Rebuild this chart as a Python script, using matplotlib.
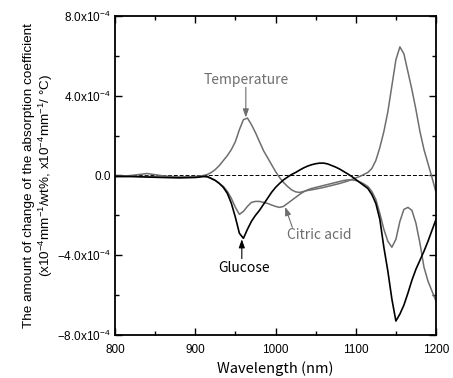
import matplotlib.pyplot as plt
import matplotlib.ticker as mticker
import numpy as np

# wavelength grid (nm)
wavelength = [800, 820, 840, 860, 880, 900, 905, 910, 915, 920, 925, 930, 935, 940,
              945, 950, 955, 960, 965, 970, 975, 980, 985, 990, 995, 1000, 1005,
              1010, 1015, 1020, 1025, 1030, 1035, 1040, 1045, 1050, 1055, 1060,
              1065, 1070, 1075, 1080, 1085, 1090, 1095, 1100, 1105, 1110, 1115,
              1120, 1125, 1130, 1135, 1140, 1145, 1150, 1155, 1160, 1165, 1170,
              1175, 1180, 1185, 1190, 1195, 1200]

# values in units of 1e-4
temperature = [-0.05, -0.05, -0.05, -0.08, -0.08, -0.05, -0.03, 0.0, 0.05, 0.15, 0.3,
               0.5, 0.75, 1.0, 1.3, 1.7, 2.3, 2.8, 2.88, 2.55, 2.15, 1.7, 1.25, 0.9,
               0.55, 0.2, -0.1, -0.35, -0.55, -0.72, -0.82, -0.85, -0.8, -0.75, -0.72,
               -0.68, -0.64, -0.6, -0.55, -0.5, -0.45, -0.4, -0.34, -0.28, -0.2, -0.12,
               -0.05, 0.05, 0.15, 0.35, 0.75, 1.4, 2.2, 3.2, 4.5, 5.8, 6.45, 6.1, 5.2,
               4.3, 3.3, 2.2, 1.3, 0.6, -0.1, -0.85]

glucose = [-0.05, -0.05, -0.08, -0.1, -0.12, -0.1, -0.08, -0.05, -0.05, -0.15, -0.25,
           -0.4, -0.6, -0.9, -1.4, -2.1, -2.9, -3.15, -2.7, -2.3, -2.0, -1.75, -1.45,
           -1.15, -0.85, -0.6, -0.4, -0.22, -0.08, 0.05, 0.15, 0.27, 0.38, 0.47,
           0.54, 0.59, 0.62, 0.62, 0.58, 0.5, 0.42, 0.32, 0.2, 0.08, -0.05, -0.2,
           -0.35, -0.5, -0.65, -0.95, -1.4, -2.2, -3.6, -4.8, -6.2, -7.3, -6.95,
           -6.5, -5.9, -5.25, -4.7, -4.25, -3.8, -3.3, -2.75, -2.2]

citric_acid = [-0.05, 0.0, 0.1, -0.02, -0.08, -0.08, -0.06, -0.05, -0.08, -0.15, -0.25,
               -0.4, -0.55, -0.8, -1.15, -1.6, -1.95, -1.8, -1.55, -1.35, -1.3, -1.3,
               -1.35, -1.4, -1.48, -1.55, -1.6, -1.55, -1.4, -1.25, -1.1, -0.95, -0.82,
               -0.72, -0.65, -0.6, -0.55, -0.5, -0.45, -0.4, -0.35, -0.3, -0.25, -0.22,
               -0.22, -0.25, -0.32, -0.42, -0.55, -0.8, -1.2, -1.9, -2.7, -3.3, -3.6,
               -3.2, -2.3, -1.7, -1.6, -1.75, -2.4, -3.4, -4.6, -5.3, -5.8, -6.3]

ytick_vals = [-8e-4, -4e-4, 0, 4e-4, 8e-4]
ytick_labels = [r"$-$8.0x10$^{-4}$", r"$-$4.0x10$^{-4}$", "0.0",
                r"4.0x10$^{-4}$", r"8.0x10$^{-4}$"]

plt.rcParams["font.family"] = ["Liberation Sans", "DejaVu Sans"]
plt.rcParams["mathtext.fontset"] = "custom"
plt.rcParams["mathtext.rm"] = "Liberation Sans"
plt.rcParams["mathtext.it"] = "Liberation Sans:italic"

fig = plt.figure(figsize=(4.53, 3.78), dpi=100)
ax = fig.add_axes([0.2539, 0.1138, 0.7086, 0.8439])

wl = np.array(wavelength)
gray = "#6e6e6e"
ax.axhline(0, color="black", lw=0.7, ls=(0, (4, 2)))
ax.plot(wl, np.array(temperature) * 1e-4, color=gray, lw=1.1)
ax.plot(wl, np.array(citric_acid) * 1e-4, color=gray, lw=1.1)
ax.plot(wl, np.array(glucose) * 1e-4, color="black", lw=1.2)

ax.set_xlim(800, 1200)
ax.set_ylim(-8e-4, 8e-4)
ax.set_xticks([800, 900, 1000, 1100, 1200])
ax.xaxis.set_minor_locator(mticker.MultipleLocator(50))
ax.set_yticks(ytick_vals)
ax.set_yticklabels(ytick_labels)
ax.yaxis.set_minor_locator(mticker.MultipleLocator(2e-4))
ax.tick_params(which="both", direction="in", top=True, right=True,
               labelsize=8.5, width=1)
ax.tick_params(which="major", length=5)
ax.tick_params(axis="y", which="major", pad=3)
ax.tick_params(axis="x", which="major", pad=6.5)
ax.tick_params(which="minor", length=3)
for s in ax.spines.values():
    s.set_linewidth(1.3)

jp = ["Noto Sans CJK JP", "DejaVu Sans"]
ax.set_xlabel("Wavelength (nm)", family=jp, fontsize=10.5, labelpad=4)
ax.set_ylabel("The amount of change of the absorption coefficient\n"
              r"(x10$^{-4}$mm$^{-1}$/wt%, x10$^{-4}$mm$^{-1}$/ °C)",
              fontsize=9.7, labelpad=2, linespacing=1.1)

arrow = dict(arrowstyle="-|>,head_length=0.5,head_width=0.18", lw=0.8, shrinkA=0, shrinkB=0)
ax.annotate("", xy=(963, 2.91e-4), xytext=(963, 4.42e-4),
            arrowprops=dict(arrow, color=gray))
ax.text(963, 4.77e-4, "Temperature", family=jp, fontsize=10, color=gray,
        ha="center", va="center")
ax.annotate("", xy=(1012, -1.58e-4), xytext=(1021, -2.6e-4),
            arrowprops=dict(arrow, color=gray))
ax.text(1054, -3.0e-4, "Citric acid", family=jp, fontsize=10, color=gray,
        ha="center", va="center")
ax.annotate("", xy=(958, -3.2e-4), xytext=(958, -4.17e-4),
            arrowprops=dict(arrow, color="black"))
ax.text(961, -4.62e-4, "Glucose", family=jp, fontsize=10, color="black",
        ha="center", va="center")

fig.savefig("out.png", dpi=100)
